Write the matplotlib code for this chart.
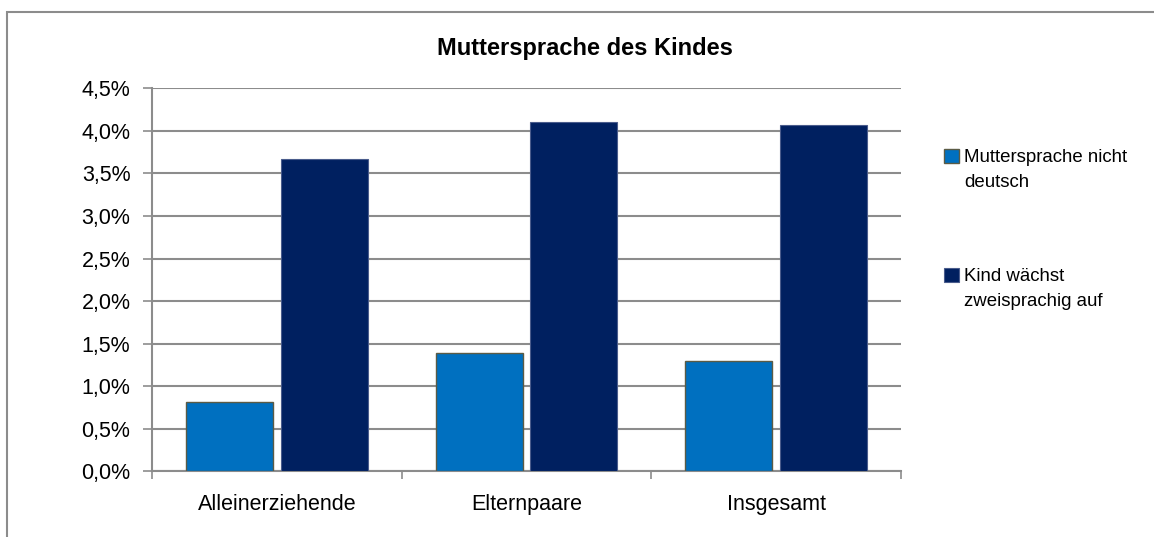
import matplotlib.pyplot as plt
import numpy as np
from matplotlib.patches import Rectangle, Patch
from matplotlib.ticker import FuncFormatter

plt.rcParams['font.family'] = ['Liberation Sans', 'DejaVu Sans']

categories = ['Alleinerziehende', 'Elternpaare', 'Insgesamt']
series_names = ['Muttersprache nicht deutsch', 'Kind wächst zweisprachig auf']
legend_lines = [['Muttersprache nicht', 'deutsch'], ['Kind wächst', 'zweisprachig auf']]
nicht_deutsch = np.array([0.81, 1.39, 1.30])
zweisprachig = np.array([3.67, 4.10, 4.07])
y_ticks = np.arange(0, 4.51, 0.5)

grid_col = '#8c8c8c'

fig = plt.figure(figsize=(11.54, 5.37), dpi=100)
ax = fig.add_axes([152 / 1154, 1 - 471.3 / 537, 749 / 1154, 383 / 537])

x = np.arange(len(categories))
w = 0.348
b1 = ax.bar(x - 0.19, nicht_deutsch, w, color='#0070c0', edgecolor='#5b5b45',
            linewidth=1, label=series_names[0], zorder=3)
b2 = ax.bar(x + 0.19, zweisprachig, w, color='#002060', edgecolor='#4a5c8c',
            linewidth=0.8, label=series_names[1], zorder=3)

ax.set_xlim(-0.5, 2.5)
ax.set_ylim(0, 4.5)
ax.set_yticks(y_ticks)
ax.yaxis.set_major_formatter(FuncFormatter(lambda v, p: f'{v:.1f}%'.replace('.', ',')))
ax.set_xticks(x)
ax.set_xticklabels(categories)
ax.set_xticks(np.arange(-0.5, 2.6, 1), minor=True)

ax.tick_params(axis='y', length=6.5, width=1.2, color=grid_col, labelsize=15.5, pad=9)
ax.tick_params(axis='x', which='major', length=0, labelsize=15.5, pad=16)
ax.tick_params(axis='x', which='minor', length=6, width=1.2, color=grid_col, direction='out')

ax.grid(axis='y', color=grid_col, linewidth=1.5, zorder=0)
ax.set_axisbelow(True)
for s in ['top', 'right']:
    ax.spines[s].set_visible(False)
for s in ['left', 'bottom']:
    ax.spines[s].set_color(grid_col)
    ax.spines[s].set_linewidth(1.5)

fig.text(585 / 1154, 1 - 48 / 537, 'Muttersprache des Kindes', ha='center', va='center',
         fontsize=17, fontweight='bold')

# Legende: Kästchen auf Höhe der ersten Zeile
blank = Patch(facecolor='none', edgecolor='none')
for bars, lines, top in [(b1, legend_lines[0], 149), (b2, legend_lines[1], 268)]:
    leg = fig.legend(handles=[bars, blank], labels=lines, loc='upper left',
                     bbox_to_anchor=(944 / 1154, 1 - top / 537),
                     frameon=False, fontsize=13.4, borderpad=0, borderaxespad=0,
                     handlelength=0.78, handleheight=0.78, handletextpad=0.3,
                     labelspacing=0.4)

# Rahmen um das Diagramm
fig.patches.append(Rectangle((7 / 1154, -0.05), 1.1, 1 - 12 / 537 + 0.05,
                             transform=fig.transFigure, fill=False,
                             edgecolor='#8c8c8c', linewidth=1.5))

plt.savefig('out.png', dpi=100)
